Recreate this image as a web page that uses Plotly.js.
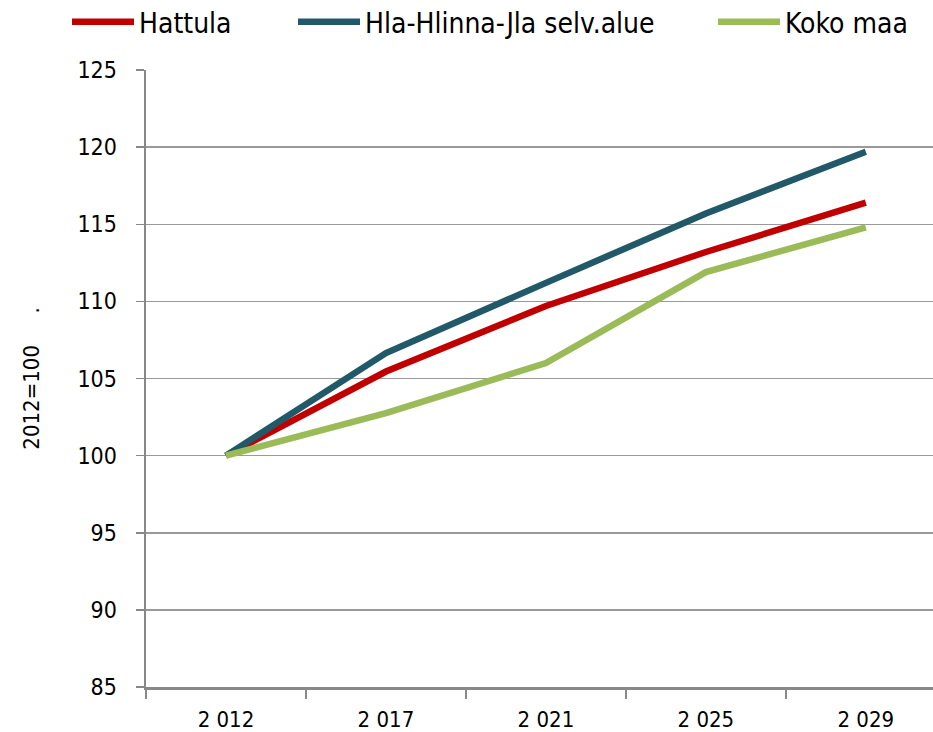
<!DOCTYPE html>
<html>
<head>
<meta charset="utf-8">
<script src="https://cdn.plot.ly/plotly-3.0.1.min.js"></script>
<style>html,body{margin:0;padding:0;background:#fff;}#chart{width:933px;height:732px;}</style>
</head>
<body>
<div id="chart"></div>
<script>
var years = ["2 012", "2 017", "2 021", "2 025", "2 029"];
var hattula = [100, 105.45, 109.7, 113.2, 116.4];
var hlaSelv = [100, 106.65, 111.2, 115.7, 119.7];
var kokoMaa = [100, 102.75, 106.0, 111.9, 114.8];
var yTicks = [85, 90, 95, 100, 105, 110, 115, 120, 125];

var FONT = "DejaVu Sans Condensed, Liberation Sans Narrow, sans-serif";

function series(name, y, color, leg) {
  return {
    x: years, y: y, name: name, type: "scatter", mode: "lines",
    line: {color: color, width: 6.5}, legend: leg
  };
}

var data = [
  series("Hattula", hattula, "#C00000", "legend"),
  series("Hla-Hlinna-Jla selv.alue", hlaSelv, "#215968", "legend2"),
  series("Koko maa", kokoMaa, "#9BBB59", "legend3")
];

function leg(xpx) {
  return {
    orientation: "h", x: xpx / 933, xanchor: "left", y: 1 - 22 / 732, yanchor: "middle",
    yref: "container", xref: "container", bgcolor: "rgba(0,0,0,0)",
    font: {size: 28, family: FONT, color: "#000"}, itemwidth: 62
  };
}

var layout = {
  width: 933, height: 732,
  margin: {l: 146, r: 0, t: 70, b: 45},
  paper_bgcolor: "#fff", plot_bgcolor: "#fff",
  font: {family: FONT, color: "#000", size: 22},
  showlegend: true,
  legend: leg(67),
  legend2: leg(293),
  legend3: leg(713),
  xaxis: {
    type: "category", range: [-0.5, 4.42], tickson: "boundaries",
    ticks: "outside", ticklen: 9, tickwidth: 1.5, tickcolor: "#888",
    showline: true, linecolor: "#888", linewidth: 2.5,
    showgrid: false, zeroline: false, ticklabelstandoff: 11,
    tickfont: {size: 22, family: FONT}
  },
  yaxis: {
    range: [85, 125], tickvals: yTicks, ticktext: yTicks.map(String),
    ticks: "outside", ticklen: 8, tickwidth: 1.5, tickcolor: "#888",
    showline: true, linecolor: "#888", linewidth: 2.5,
    showgrid: true, gridcolor: "#999", gridwidth: 1.5, zeroline: false,
    ticklabelstandoff: 14,
    tickfont: {size: 23, family: FONT},
    title: {text: "2012=100\u00a0\u00a0\u00a0\u00a0\u00a0.\u00a0\u00a0\u00a0\u00a0\u00a0\u00a0\u00a0\u00a0\u00a0\u00a0", font: {size: 22, family: FONT}, standoff: 32}
  }
};

Plotly.newPlot("chart", data, layout, {displayModeBar: false, staticPlot: true});
</script>
</body>
</html>
